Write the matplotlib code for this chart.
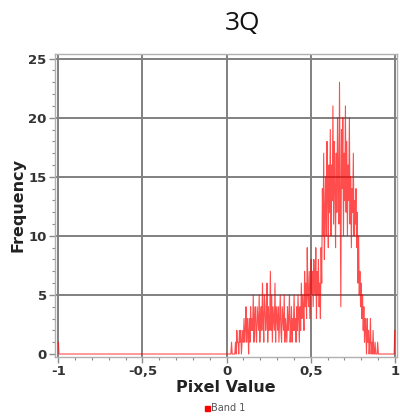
import numpy as np
import matplotlib
matplotlib.use("Agg")
import matplotlib.pyplot as plt
from matplotlib.ticker import MultipleLocator, FixedLocator, FixedFormatter

# Histogram of band 1: 512 bins over [-1, 1]
n_bins = 512

# Counts for the bins starting at pixel value 0.0 (rows of 13 bins, about 0.05 wide)
counts_from_zero = [
    0, 0, 0, 0, 0, 0, 0, 1, 0, 0, 0, 0, 0,
    1, 0, 2, 1, 1, 0, 2, 1, 2, 0, 1, 2, 1,
    3, 1, 2, 4, 1, 3, 2, 0, 3, 1, 4, 2, 3,
    2, 5, 1, 3, 4, 2, 1, 4, 3, 2, 5, 1, 3,
    4, 2, 6, 3, 1, 5, 4, 2, 3, 6, 1, 4, 2,
    3, 7, 2, 5, 1, 4, 3, 2, 6, 1, 4, 3, 2,
    4, 1, 3, 5, 2, 1, 4, 3, 2, 5, 1, 3, 2,
    1, 4, 2, 3, 5, 1, 2, 4, 1, 3, 2, 5, 2,
    3, 1, 4, 2, 5, 3, 1, 4, 2, 6, 3, 5, 4,
    2, 7, 4, 6, 3, 9, 5, 4, 7, 3, 6, 8, 5,
    7, 4, 8, 6, 5, 9, 3, 7, 5, 8, 4, 6, 3,
    9, 6, 14, 10, 17, 8, 12, 15, 10, 18, 13, 9, 16,
    12, 19, 10, 16, 13, 21, 11, 18, 14, 9, 17, 12, 20,
    15, 11, 23, 13, 4, 19, 14, 20, 10, 17, 13, 21, 12,
    18, 10, 16, 13, 20, 11, 15, 9, 14, 12, 17, 10, 13,
    11, 14, 9, 12, 6, 10, 5, 7, 4, 6, 3, 5, 2,
    4, 1, 3, 2, 0, 3, 1, 2, 0, 1, 3, 0, 1,
    0, 2, 0, 0, 1, 0, 0, 0, 1, 0, 0, 0, 0,
]
count_first_bin = 1   # bin at -1
count_last_bin = 2    # bin at +1

frequency = np.zeros(n_bins)
start = n_bins // 2
frequency[start:start + len(counts_from_zero)] = counts_from_zero
frequency[0] = count_first_bin
frequency[-1] = count_last_bin
pixel_value = np.linspace(-1, 1, n_bins)

x_ticks = [-1, -0.5, 0, 0.5, 1]
x_tick_labels = ["-1", "-0,5", "0", "0,5", "1"]
y_ticks = [0, 5, 10, 15, 20, 25]

fig = plt.figure(figsize=(4.0, 4.18), dpi=100)
ax = fig.add_axes([0.1375, 0.146, 0.855, 0.725])

grid_c = "#808080"
for v in x_ticks:
    ax.axvline(v, color=grid_c, lw=1.4, zorder=0)
for v in y_ticks[1:]:
    ax.axhline(v, color=grid_c, lw=1.4, zorder=0)

ax.plot(pixel_value, frequency, color="#ff0000", lw=0.8, alpha=0.7, zorder=3)

ax.set_xlim(-1.02, 1.013)
ax.set_ylim(-0.25, 25.4)

ax.xaxis.set_major_locator(FixedLocator(x_ticks))
ax.xaxis.set_major_formatter(FixedFormatter(x_tick_labels))
ax.xaxis.set_minor_locator(MultipleLocator(0.1))
ax.yaxis.set_major_locator(FixedLocator(y_ticks))
ax.yaxis.set_minor_locator(MultipleLocator(1))

tick_c = "#8c8c8c"
ax.tick_params(which="major", direction="out", length=4, width=1, color=tick_c,
               labelsize=9.5, labelcolor="#333333", pad=2)
ax.tick_params(which="minor", direction="out", length=2.5, width=0.8, color=tick_c)
for lab in ax.get_xticklabels() + ax.get_yticklabels():
    lab.set_fontweight("bold")

for s in ax.spines.values():
    s.set_color("#b0b0b0")
    s.set_linewidth(1.0)

ax.set_xlabel("Pixel Value", fontsize=11.5, fontweight="bold", color="#222222", labelpad=1)
ax.set_ylabel("Frequency", fontsize=11.5, fontweight="bold", color="#222222", labelpad=2)

fig.text(0.607, 0.943, "3Q", fontsize=19, ha="center", va="center", color="#111111",
         family="Open Sans")

# legend entry
fig.text(0.528, 0.023, "Band 1", fontsize=7, ha="left", va="center", color="#555555")
fig.patches.append(plt.Rectangle((0.513, 0.016), 0.012, 0.012, transform=fig.transFigure,
                                 color="#ff0000", figure=fig))

fig.savefig("out.png", dpi=100)
